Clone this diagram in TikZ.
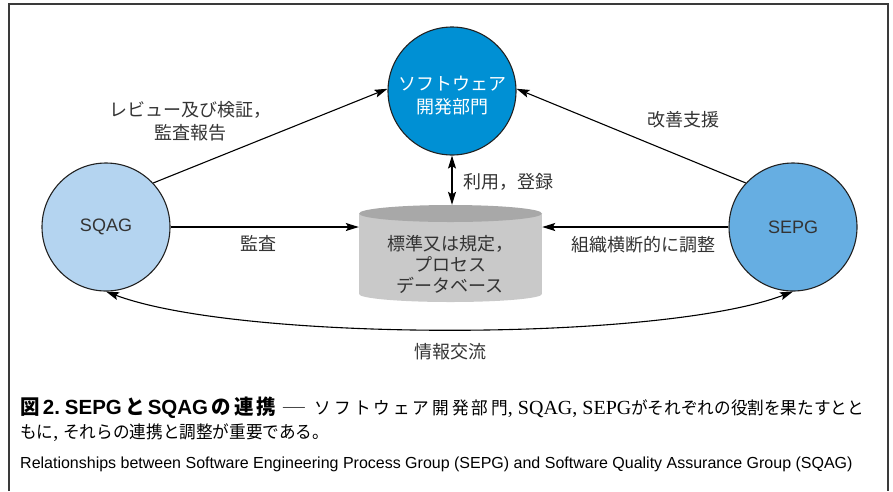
\documentclass[tikz,border=0pt]{standalone}
\usepackage{fontspec}
\usepackage{graphicx}
\usetikzlibrary{arrows.meta}
\setmainfont{Liberation Sans}
\newfontfamily\jp{Noto Sans CJK JP}
\newfontfamily\jpcap[FakeStretch=0.95]{Noto Sans CJK JP}
\newfontfamily\lserif{Liberation Serif}

% stretchable gap used to spread parts of the first caption line
\newcommand{\jg}{\hskip 0pt plus 1fil\relax}

\definecolor{ink}{HTML}{333333}
\definecolor{edge}{HTML}{222222}
\definecolor{framec}{HTML}{3A3A3A}
\definecolor{swblue}{HTML}{0090D4}
\definecolor{qablue}{HTML}{B4D4F0}
\definecolor{epblue}{HTML}{66AEE2}
\definecolor{cylbody}{HTML}{C9C9C9}
\definecolor{cyltop}{HTML}{A8A8A8}

\begin{document}
\begin{tikzpicture}[x=1pt,y=-1pt,
  every node/.style={inner sep=0pt, text=ink},
  party/.style={circle, draw=edge, line width=1.1pt, minimum size=128pt},
  lbl/.style={font=\jp\fontsize{18}{23}\selectfont, align=center},
  conn/.style={draw=black, line width=1.1pt},
  tip/.style={-{Stealth[length=13pt,width=8pt,inset=2.5pt]}},
  bitip/.style={{Stealth[length=13pt,width=8pt,inset=2.5pt]}-{Stealth[length=13pt,width=8pt,inset=2.5pt]}},
  capline/.style={anchor=base west, text=black, font=\fontsize{17.5}{22}\selectfont}
]
\useasboundingbox (0,0) rectangle (893,491);

% outer frame (open at the bottom)
\draw[framec, line width=1.4pt] (9,491) -- (9,4) -- (888,4) -- (888,491);

% the three groups
\node[party, fill=swblue] (sw) at (452,91) {};
\node[lbl, text=white] (swtxt) at (452,96) {ソフトウェア\\開発部門};
\node[party, fill=qablue, font=\fontsize{18}{22}\selectfont] (sqag) at (106,227) {SQAG};
\node[party, fill=epblue, font=\fontsize{18}{22}\selectfont] (sepg) at (793,227) {SEPG};

% database cylinder
\fill[cylbody] (359,214) rectangle (542,294);
\fill[cylbody] (450.5,294) ellipse [x radius=91.5, y radius=8];
\fill[cyltop] (450.5,213.5) ellipse [x radius=91.5, y radius=8.5];
\node[minimum width=183pt, minimum height=97pt] (db) at (450.5,253.5) {};
\node[lbl, font=\jp\fontsize{18}{21}\selectfont] (dbtxt) at (450,264) {標準又は規定，\\プロセス\\データベース};

% connectors
\draw[conn, tip] (sqag.43) -- (sw.178);
\draw[conn, tip] (sepg.137) -- (sw.2);
\draw[conn, tip] (sqag.east) -- (sqag.east -| db.west);
\draw[conn, tip] (sepg.west) -- (sepg.west -| db.east);
\draw[conn, bitip] (sw.south) -- (sw.south |- db.north);
\draw[conn, bitip] (sqag.south) .. controls (240,342) and (660,342) .. (sepg.south);

% connector labels
\node[lbl] (l1) at (190,121) {レビュー及び検証，\\監査報告};
\node[lbl] (l2) at (683,120) {改善支援};
\node[lbl, anchor=west] (l3) at (463,182) {利用，登録};
\node[lbl] (l4) at (258,243) {監査};
\node[lbl] (l5) at (643,245) {組織横断的に調整};
\node[lbl] (l6) at (450,352) {情報交流};

% caption
\node[capline] (cap1) at (20,414)
  {\makebox[256pt][s]{\fontsize{20.5}{22}\selectfont\bfseries{\jpcap 図}\jg 2.\hspace{5pt}SEPG\jg{\jpcap と}\jg SQAG\jg{\jpcap の}\jg{\jpcap 連}\jg{\jpcap 携}}%
   \hspace{5pt}\scalebox{1.55}[1]{\jpcap ―}\hspace{8pt}%
   \makebox[193pt][s]{\jpcap ソ\jg フ\jg ト\jg ウ\jg ェ\jg ア\jg 開\jg 発\jg 部\jg 門}%
   {\lserif\fontsize{20}{22}\selectfont , SQAG, SEPG}%
   {\jpcap がそれぞれの役割を果たすとと}};
\node[capline] (cap2) at (20,438)
  {{\jpcap もに}{\lserif\fontsize{20}{22}\selectfont ,} {\jpcap それらの連携と調整が重要である。}};
\node[capline, font=\fontsize{16}{19}\selectfont] (cap3) at (20,468)
  {Relationships between Software Engineering Process Group (SEPG) and Software Quality Assurance Group (SQAG)};
\end{tikzpicture}
\end{document}
